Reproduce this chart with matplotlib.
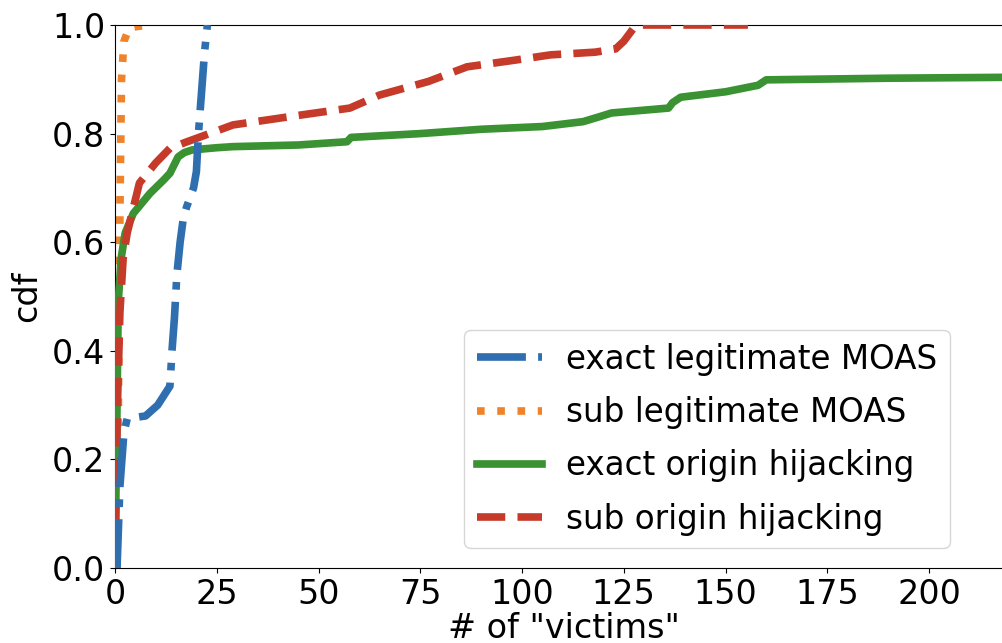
import matplotlib
matplotlib.use("Agg")
import matplotlib.pyplot as plt

# ── Data ─────────────────────────────────────────────────────────────────────

exact_moas_x = [0.5, 1.2, 2.2, 3.0, 7.5, 10.5, 13.5, 14.0, 14.6, 15.2, 16.0,
                16.8, 17.6, 19.3, 20.0, 20.5, 21.3, 22.0, 22.7]
exact_moas_y = [0.0, 0.15, 0.25, 0.275, 0.28, 0.30, 0.335, 0.40, 0.46, 0.54,
                0.60, 0.645, 0.665, 0.70, 0.73, 0.80, 0.88, 0.95, 1.0]

sub_moas_x = [0.5, 1.0, 1.2, 1.6, 2.2, 3.5, 8.0]
sub_moas_y = [0.0, 0.45, 0.65, 0.90, 0.97, 0.995, 1.0]

exact_hijack_x = [0, 0.5, 0.8, 1.5, 2.5, 4.5, 8.6, 12, 13.5, 15.5, 17, 19, 25,
                  29, 45, 57, 58, 75, 90, 105, 115, 119, 122, 136, 137, 139,
                  150, 158, 160, 190, 225]
exact_hijack_y = [0, 0.3, 0.49, 0.57, 0.617, 0.653, 0.69, 0.715, 0.727, 0.757,
                  0.765, 0.77, 0.774, 0.776, 0.779, 0.785, 0.793, 0.80, 0.808,
                  0.813, 0.822, 0.831, 0.838, 0.847, 0.857, 0.867, 0.877,
                  0.889, 0.899, 0.902, 0.904]

sub_hijack_x = [0, 0.6, 1.2, 2, 3, 6, 10, 13.5, 17.7, 21, 29, 45.5, 57.7, 65,
                77, 86.5, 98, 107, 118, 123, 125, 126.5, 128, 155.5]
sub_hijack_y = [0, 0.3, 0.47, 0.57, 0.617, 0.709, 0.746, 0.773, 0.785, 0.794,
                0.816, 0.834, 0.847, 0.871, 0.896, 0.923, 0.935, 0.945, 0.95,
                0.956, 0.97, 0.985, 1.0, 1.0]

labels = ["exact legitimate MOAS", "sub legitimate MOAS",
          "exact origin hijacking", "sub origin hijacking"]

# ── Plot ─────────────────────────────────────────────────────────────────────

fig = plt.figure(figsize=(10.02, 6.43), dpi=100)
# right spine sits just past the image edge, as in the cropped original
ax = fig.add_axes([115 / 1002, 75 / 643, 897 / 1002, 543 / 643])

lw = 5.5
ax.plot(exact_moas_x, exact_moas_y, "-.", color="#2f6fb0", lw=lw,
        label=labels[0], zorder=5)
ax.plot(sub_moas_x, sub_moas_y, ":", color="#f0822a", lw=lw, label=labels[1],
        zorder=2)
ax.plot(exact_hijack_x, exact_hijack_y, "-", color="#3a9232", lw=lw,
        label=labels[2], zorder=3)
ax.plot(sub_hijack_x, sub_hijack_y, "--", color="#c63a2a", lw=lw,
        label=labels[3], zorder=4)

ax.set_xlim(0, 897 / 4.07)
ax.set_ylim(0, 1.0)
ax.set_xticks([0, 25, 50, 75, 100, 125, 150, 175, 200])
ax.set_yticks([0.0, 0.2, 0.4, 0.6, 0.8, 1.0])
ax.tick_params(labelsize=24)
ax.set_xlabel('# of "victims"', fontsize=24, labelpad=1)
ax.set_ylabel("cdf", fontsize=24, labelpad=6)

ax.legend(loc="lower right", bbox_to_anchor=(835 / 897, 20 / 543),
          borderaxespad=0, fontsize=23.5, handlelength=2.0, labelspacing=0.62,
          handletextpad=0.75, borderpad=0.38)

fig.savefig("out.png", dpi=100)
